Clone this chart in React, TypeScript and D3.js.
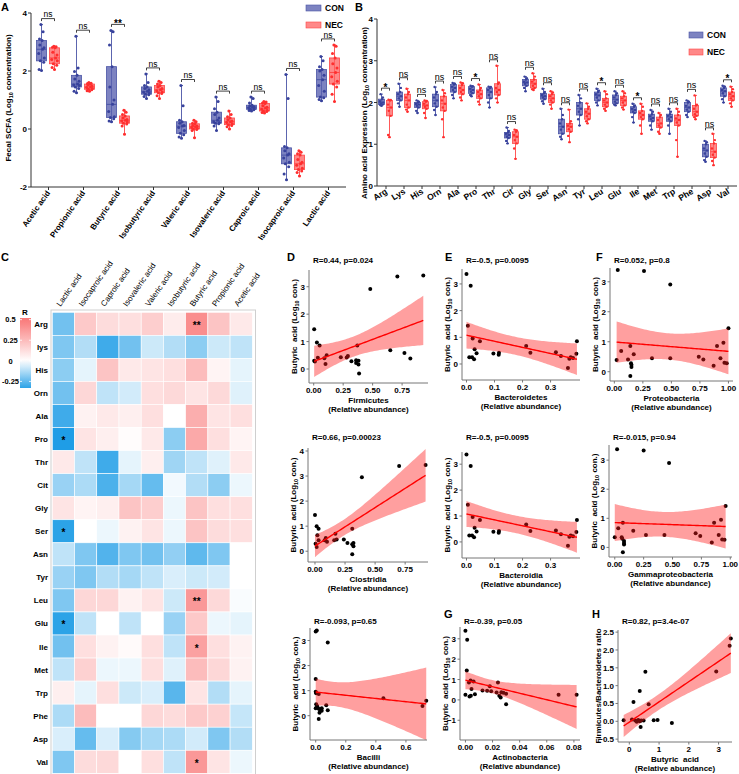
import React from "react";
import * as d3 from "d3";

const FONT = "'Liberation Sans', Arial, Helvetica, sans-serif";

// ---------- Panel A: fecal SCFA ----------
const scfaCats = ["Acetic acid", "Propionic acid", "Butyric acid", "Isobutyric acid", "Valeric acid", "Isovaleric acid", "Caproic acid", "Isocaproic acid", "Lactic acid"];
const scfaCon = [
  [2.02, 2.05, 2.3, 2.35, 2.45, 2.6, 2.75, 2.8, 2.9, 3.05, 3.1, 3.35, 3.6],
  [1.25, 1.3, 1.4, 1.45, 1.5, 1.52, 1.55, 1.65, 1.72, 1.85, 1.98, 2.1, 3.2],
  [0.25, 0.28, 0.35, 0.4, 0.42, 0.6, 0.85, 1.0, 1.45, 2.15, 2.9, 3.35, 3.4],
  [1.05, 1.12, 1.18, 1.2, 1.24, 1.27, 1.3, 1.35, 1.4, 1.45, 1.5, 1.6, 1.9],
  [-0.32, -0.28, -0.2, -0.15, -0.05, 0.05, 0.1, 0.12, 0.2, 0.25, 0.3, 0.8, 1.5],
  [-0.05, 0.1, 0.18, 0.2, 0.22, 0.25, 0.3, 0.38, 0.5, 0.58, 0.7, 0.95, 1.1],
  [0.62, 0.64, 0.66, 0.68, 0.7, 0.72, 0.75, 0.77, 0.8, 0.82, 0.9, 1.05, 1.1],
  [-1.75, -1.55, -1.3, -1.2, -1.15, -1.0, -0.9, -0.85, -0.75, -0.65, -0.6, 1.05, 1.88],
  [0.97, 1.02, 1.08, 1.1, 1.3, 1.5, 1.7, 1.85, 2.0, 2.05, 2.15, 2.35, 2.5],
];
const scfaNec = [
  [2.05, 2.12, 2.2, 2.25, 2.35, 2.4, 2.45, 2.55, 2.65, 2.8, 2.82, 2.84, 2.85],
  [1.3, 1.32, 1.35, 1.37, 1.4, 1.43, 1.45, 1.48, 1.52, 1.55, 1.57, 1.58, 1.6],
  [-0.18, 0.1, 0.17, 0.2, 0.24, 0.28, 0.3, 0.33, 0.38, 0.45, 0.5, 0.58, 0.65],
  [1.05, 1.15, 1.22, 1.25, 1.28, 1.32, 1.35, 1.4, 1.45, 1.5, 1.55, 1.6, 1.65],
  [-0.3, -0.05, -0.02, 0.0, 0.03, 0.05, 0.08, 0.1, 0.12, 0.18, 0.2, 0.25, 0.3],
  [0.0, 0.08, 0.12, 0.15, 0.18, 0.22, 0.25, 0.28, 0.32, 0.38, 0.42, 0.5, 0.62],
  [0.55, 0.57, 0.6, 0.62, 0.65, 0.68, 0.72, 0.75, 0.8, 0.88, 0.9, 0.93, 0.95],
  [-1.62, -1.5, -1.45, -1.4, -1.35, -1.25, -1.2, -1.15, -1.05, -0.9, -0.85, -0.8, -0.75],
  [0.95, 1.2, 1.45, 1.55, 1.65, 1.8, 1.95, 2.1, 2.25, 2.45, 2.6, 2.85, 2.9],
];
const scfaSig = ["ns", "ns", "**", "ns", "ns", "ns", "ns", "ns", "ns"];
const scfaTicks = [-2, 0, 2, 4];

// ---------- Panel B: amino acids ----------
const aaCats = ["Arg", "Lys", "His", "Orn", "Ala", "Pro", "Thr", "Cit", "Gly", "Ser", "Asn", "Tyr", "Leu", "Glu", "Ile", "Met", "Trp", "Phe", "Asp", "Val"];
const aaCon = [
  [1.92, 1.94, 1.95, 1.98, 2.0, 2.03, 2.08, 2.12, 2.2],
  [1.9, 1.98, 2.05, 2.1, 2.15, 2.2, 2.25, 2.35, 2.45],
  [1.75, 1.8, 1.88, 1.92, 1.95, 1.97, 2.0, 2.02, 2.05],
  [1.7, 1.82, 1.9, 1.98, 2.05, 2.12, 2.2, 2.25, 2.37],
  [2.1, 2.18, 2.25, 2.3, 2.35, 2.38, 2.43, 2.45, 2.47],
  [2.15, 2.18, 2.22, 2.26, 2.3, 2.33, 2.38, 2.39, 2.4],
  [1.88, 2.0, 2.1, 2.18, 2.25, 2.3, 2.35, 2.37, 2.38],
  [1.02, 1.08, 1.15, 1.18, 1.22, 1.25, 1.28, 1.32, 1.4],
  [2.27, 2.35, 2.4, 2.45, 2.48, 2.5, 2.55, 2.58, 2.62],
  [1.97, 2.03, 2.08, 2.12, 2.15, 2.18, 2.22, 2.25, 2.33],
  [1.12, 1.18, 1.25, 1.35, 1.42, 1.5, 1.6, 1.7, 1.85],
  [1.45, 1.6, 1.7, 1.78, 1.85, 1.92, 2.0, 2.1, 2.18],
  [1.93, 2.0, 2.05, 2.12, 2.17, 2.2, 2.25, 2.28, 2.33],
  [1.93, 1.95, 1.98, 2.02, 2.07, 2.12, 2.18, 2.22, 2.27],
  [1.52, 1.65, 1.75, 1.78, 1.82, 1.85, 1.9, 1.93, 1.97],
  [1.35, 1.45, 1.55, 1.6, 1.63, 1.67, 1.72, 1.78, 1.82],
  [1.25, 1.45, 1.55, 1.6, 1.65, 1.68, 1.72, 1.78, 1.85],
  [1.65, 1.7, 1.78, 1.83, 1.88, 1.92, 2.0, 2.02, 2.05],
  [0.58, 0.62, 0.7, 0.78, 0.85, 0.9, 1.0, 1.05, 1.08],
  [2.0, 2.08, 2.15, 2.22, 2.27, 2.3, 2.35, 2.38, 2.4],
];
const aaNec = [
  [1.17, 1.22, 1.68, 1.8, 1.88, 1.95, 2.05, 2.06, 2.07],
  [1.78, 1.83, 1.88, 1.95, 2.05, 2.12, 2.2, 2.25, 2.33],
  [1.63, 1.75, 1.85, 1.9, 1.93, 1.97, 2.02, 2.04, 2.05],
  [1.17, 1.6, 1.8, 1.88, 1.97, 2.05, 2.15, 2.22, 2.3],
  [2.05, 2.12, 2.2, 2.25, 2.3, 2.35, 2.42, 2.46, 2.48],
  [1.95, 2.02, 2.1, 2.15, 2.2, 2.25, 2.3, 2.35, 2.43],
  [2.0, 2.1, 2.18, 2.25, 2.3, 2.35, 2.45, 2.48, 2.88],
  [0.65, 0.9, 1.02, 1.1, 1.18, 1.22, 1.3, 1.33, 1.35],
  [2.3, 2.32, 2.35, 2.4, 2.45, 2.5, 2.55, 2.62, 2.7],
  [1.85, 1.95, 2.0, 2.05, 2.1, 2.15, 2.2, 2.24, 2.27],
  [1.05, 1.2, 1.3, 1.36, 1.42, 1.45, 1.5, 1.55, 1.83],
  [1.5, 1.55, 1.6, 1.67, 1.73, 1.78, 1.85, 1.9, 1.98],
  [1.8, 1.85, 1.9, 1.95, 2.0, 2.05, 2.1, 2.2, 2.27],
  [1.83, 1.88, 1.93, 2.0, 2.05, 2.1, 2.15, 2.22, 2.27],
  [1.25, 1.45, 1.6, 1.65, 1.7, 1.75, 1.8, 1.9, 1.97],
  [1.25, 1.3, 1.4, 1.45, 1.5, 1.58, 1.65, 1.7, 1.75],
  [0.7, 1.1, 1.45, 1.52, 1.58, 1.62, 1.7, 1.78, 1.85],
  [1.6, 1.65, 1.68, 1.72, 1.78, 1.85, 1.93, 1.95, 2.17],
  [0.5, 0.6, 0.68, 0.75, 0.82, 0.9, 1.02, 1.1, 1.25],
  [1.9, 1.98, 2.05, 2.1, 2.15, 2.2, 2.25, 2.32, 2.38],
];
const aaSig = ["*", "ns", "ns", "ns", "ns", "*", "ns", "ns", "ns", "ns", "ns", "ns", "*", "ns", "*", "ns", "ns", "ns", "ns", "*"];
const aaTicks = [0, 1, 2, 3, 4];

// ---------- Panel C: correlation heatmap ----------
const hmCols = ["Lactic acid", "Isocaproic acid", "Caproic acid", "Isovaleric acid", "Valeric acid", "Isobutyric acid", "Butyric acid", "Propionic acid", "Acetic acid"];
const hmRows = ["Arg", "lys", "His", "Orn", "Ala", "Pro", "Thr", "Cit", "Gly", "Ser", "Asn", "Tyr", "Leu", "Glu", "Ile", "Met", "Trp", "Phe", "Asp", "Val"];
const hmR = [
  [-0.22, 0.2, 0.13, 0.12, 0.18, 0.07, 0.42, 0.22, 0.08],
  [-0.2, -0.12, -0.3, -0.22, -0.08, -0.12, -0.18, -0.08, -0.1],
  [-0.18, -0.04, 0.22, 0.08, 0.1, 0.12, 0.25, 0.04, -0.04],
  [-0.22, 0.15, -0.1, -0.07, 0.12, 0.14, 0.1, 0.14, -0.05],
  [-0.3, 0.05, 0.08, 0.06, 0.12, 0.0, 0.3, 0.1, 0.12],
  [-0.35, 0.1, 0.06, 0.01, 0.08, -0.18, 0.32, 0.12, 0.04],
  [0.08, -0.1, -0.3, -0.04, 0.06, -0.15, -0.1, -0.05, 0.08],
  [-0.16, -0.13, -0.28, -0.14, -0.24, -0.02, -0.12, -0.18, -0.03],
  [0.1, 0.04, 0.06, 0.22, 0.18, -0.03, 0.22, 0.12, 0.12],
  [-0.33, 0.0, -0.03, 0.05, 0.1, -0.03, 0.22, 0.13, 0.12],
  [-0.1, -0.2, -0.27, -0.2, -0.22, -0.17, -0.25, -0.2, 0.0],
  [-0.16, -0.2, -0.12, -0.14, -0.1, -0.06, -0.08, -0.07, 0.0],
  [-0.2, 0.15, 0.15, 0.05, 0.1, -0.08, 0.38, 0.14, -0.01],
  [-0.33, -0.1, 0.0, -0.1, 0.0, -0.16, 0.2, -0.03, -0.04],
  [-0.22, 0.12, 0.05, 0.02, 0.12, -0.1, 0.35, 0.12, 0.05],
  [-0.1, 0.17, -0.03, -0.03, 0.12, -0.05, 0.25, 0.15, 0.05],
  [0.06, -0.04, 0.12, -0.08, -0.06, -0.26, 0.1, -0.12, -0.04],
  [-0.13, 0.25, 0.0, 0.0, 0.15, 0.13, 0.2, 0.17, -0.09],
  [-0.06, -0.24, -0.06, -0.19, -0.14, -0.13, -0.07, -0.2, -0.12],
  [-0.2, 0.13, 0.14, 0.0, 0.12, -0.1, 0.38, 0.1, -0.03],
];
const hmStarRows = ["Arg", "Pro", "Ser", "Leu", "Glu", "Ile", "Val"];
const hmStarCols = ["Butyric acid", "Lactic acid", "Lactic acid", "Butyric acid", "Lactic acid", "Butyric acid", "Butyric acid"];
const hmStarLabels = ["**", "*", "*", "**", "*", "*", "*"];
const hmLegendTicks = [0.5, 0.25, 0, -0.25];

// ---------- Panels D–H: correlation scatter data ----------
const firmicutesX = [0.004, 0.027, 0.05, 0.004, 0.035, 0.09, 0.1, 0.11, 0.23, 0.28, 0.29, 0.32, 0.37, 0.36, 0.38, 0.38, 0.385, 0.36, 0.48, 0.65, 0.71, 0.77, 0.82, 0.93, 0.01];
const firmicutesY = [1.45, 0.97, 0.86, 0.3, 0.41, 0.39, 0.18, 0.5, 0.43, 0.42, 0.47, 0.28, 0.86, 0.22, 0.16, 0.3, -0.16, 0.32, 2.92, 0.68, 3.37, 0.58, 0.38, 3.41, 0.27];
const bacteroidX = [0.0, 0.015, 0.005, 0.022, 0.048, 0.029, 0.036, 0.01, 0.02, 0.027, 0.096, 0.116, 0.115, 0.213, 0.228, 0.319, 0.337, 0.362, 0.367, 0.372, 0.38, 0.394, 0.392];
const bacteroidY = [3.37, 2.93, 1.43, 0.96, 0.85, 0.55, 0.4, 0.25, 0.25, 0.18, 0.39, 0.42, 0.35, 0.67, 0.42, 0.44, 0.3, -0.15, 0.2, 0.25, 0.22, 0.85, 0.38];
const proteoX = [0.02, 0.06, 0.12, 0.14, 0.146, 0.15, 0.15, 0.14, 0.17, 0.33, 0.49, 0.74, 0.78, 0.87, 0.9, 0.93, 0.956, 0.965, 0.985, 1.0, 0.03, 0.26, 0.49];
const proteoY = [0.39, 0.69, 0.41, 0.86, 0.28, 0.23, 0.16, -0.14, 0.58, 0.45, 0.45, 0.5, 0.41, 0.2, 0.86, 0.45, 0.97, 0.3, 0.28, 1.45, 3.39, 3.36, 2.91];
const clostridiaX = [0.0, 0.014, 0.03, 0.02, 0.005, 0.014, 0.03, 0.08, 0.09, 0.1, 0.16, 0.17, 0.18, 0.24, 0.27, 0.31, 0.31, 0.32, 0.32, 0.31, 0.39, 0.7, 0.92];
const clostridiaY = [1.45, 1.0, 0.9, 0.64, 0.3, 0.17, 0.44, 0.44, 0.53, 0.38, 0.44, 0.7, 0.47, 0.47, 0.33, 0.9, 0.28, 0.2, 0.33, -0.12, 2.95, 3.4, 3.44];
const gammaX = [0.0, 0.03, 0.06, 0.065, 0.07, 0.08, 0.08, 0.07, 0.08, 0.16, 0.27, 0.43, 0.7, 0.74, 0.84, 0.86, 0.9, 0.92, 0.93, 0.95, 0.96, 0.02, 0.25, 0.47];
const gammaY = [0.35, 0.66, 0.35, 0.3, 0.85, 0.15, 0.22, -0.17, 0.1, 0.57, 0.43, 0.43, 0.49, 0.39, 0.17, 0.85, 0.43, 0.95, 0.27, 0.26, 1.42, 3.37, 3.33, 2.9];
const bacilliX = [0.0, 0.007, 0.08, 0.0, 0.0, 0.003, 0.02, 0.003, 0.01, 0.02, 0.0, 0.03, 0.04, 0.025, 0.02, 0.04, 0.07, 0.08, 0.45, 0.71, 0.735];
const bacilliY = [3.36, 3.4, 2.92, 1.46, 0.96, 0.9, 0.87, 0.46, 0.38, 0.28, 0.3, 0.2, 0.3, 0.12, -0.13, 0.2, 0.42, 0.22, 0.7, 0.39, 0.6];
const actinoX = [0.0, 0.0013, 0.001, 0.0026, 0.0038, 0.0045, 0.0, 0.003, 0.004, 0.007, 0.006, 0.0126, 0.016, 0.018, 0.019, 0.023, 0.024, 0.025, 0.026, 0.0265, 0.028, 0.03, 0.03, 0.0687, 0.082];
const actinoY = [3.4, 2.95, 1.44, 0.85, 0.95, 0.54, 0.25, 0.17, 0.2, 0.28, 0.9, 0.46, 0.45, 0.67, 0.43, 0.36, 0.85, 0.2, 0.12, 0.38, 0.35, 0.3, -0.21, 0.25, 0.25];
const fbButyricX = [-0.19, 0.09, 0.14, 0.2, 0.25, 0.3, 0.35, 0.4, 0.38, 0.35, 0.54, 0.65, 0.48, 0.82, 0.95, 1.43, 2.92, 3.37, 3.41];
const fbRatioY = [0.03, 0.05, 0.54, 0.02, -0.01, 0.04, 0.0, 0.02, -0.16, 0.85, 1.39, 0.48, 0.02, 0.03, 0.04, -0.05, 1.4, 2.12, 2.32];

// ---------- styling ----------
const CON_FILL = "rgba(88,96,176,0.78)";
const CON_STROKE = "#4a54a6";
const CON_PT = "#38429c";
const NEC_FILL = "rgba(255,96,96,0.75)";
const NEC_STROKE = "#ff4646";
const NEC_PT = "#ff2e2e";
const JIT = [0, -2.4, 2.2, -1.2, 2.8, -2.8, 1.1, 2.5, -1.7, 0.6, -2, 1.6, -0.6];

function stats(v: number[]) {
  const s = [...v].sort(d3.ascending);
  return { min: s[0], q1: d3.quantile(s, 0.25)!, med: d3.quantile(s, 0.5)!, q3: d3.quantile(s, 0.75)!, max: s[s.length - 1] };
}

function Box({ vals, cx, w, y, fill, stroke, pt, r, jit }: any) {
  const s = stats(vals);
  return (
    <g>
      <line x1={cx} x2={cx} y1={y(s.min)} y2={y(s.max)} stroke={stroke} strokeWidth={0.9} />
      <line x1={cx - 1.5} x2={cx + 1.5} y1={y(s.min)} y2={y(s.min)} stroke={stroke} strokeWidth={0.9} />
      <line x1={cx - 1.5} x2={cx + 1.5} y1={y(s.max)} y2={y(s.max)} stroke={stroke} strokeWidth={0.9} />
      <rect x={cx - w / 2} y={y(s.q3)} width={w} height={y(s.q1) - y(s.q3)} fill={fill} stroke={stroke} strokeWidth={0.8} />
      <line x1={cx - w / 2} x2={cx + w / 2} y1={y(s.med)} y2={y(s.med)} stroke={stroke} strokeWidth={1} />
      {vals.map((v: number, i: number) => (
        <circle key={i} cx={cx + JIT[i % JIT.length] * jit} cy={y(v)} r={r} fill={pt} />
      ))}
    </g>
  );
}

function BoxPanel({ cats, con, nec, sig, ticks, x, y, off, boxW, r, jit, labelRot, labelSize, labelDy, yLabel, legend, nsSize }: any) {
  const [x0, x1] = x.range();
  const [yb, yt] = y.range();
  return (
    <g fontFamily={FONT}>
      <line x1={x0} x2={x0} y1={yb} y2={yt} stroke="#333" strokeWidth={1} />
      <line x1={x0} x2={x1} y1={yb} y2={yb} stroke="#333" strokeWidth={1} />
      {ticks.map((t: number) => (
        <g key={t}>
          <line x1={x0 - 3} x2={x0} y1={y(t)} y2={y(t)} stroke="#333" />
          <text x={x0 - 4} y={y(t) + 3} textAnchor="end" fontSize={8} fontWeight="bold">{t}</text>
        </g>
      ))}
      {cats.map((c: string, i: number) => {
        const cx = x(c)! + x.bandwidth() / 2;
        const sc = stats(con[i]);
        const sn = stats(nec[i]);
        const by = Math.min(y(sc.max), y(sn.max)) - 6;
        const a = cx + off[0];
        const b = cx + off[1];
        return (
          <g key={c}>
            <line x1={cx} x2={cx} y1={yb} y2={yb + 3} stroke="#333" />
            <Box vals={con[i]} cx={a} w={boxW} y={y} fill={CON_FILL} stroke={CON_STROKE} pt={CON_PT} r={r} jit={jit} />
            <Box vals={nec[i]} cx={b} w={boxW} y={y} fill={NEC_FILL} stroke={NEC_STROKE} pt={NEC_PT} r={r} jit={jit} />
            <path d={`M${a},${by + 2.5}V${by}H${b}V${by + 2.5}`} fill="none" stroke="#111" strokeWidth={0.8} />
            <text x={(a + b) / 2} y={sig[i] === "ns" ? by - 1.2 : by + 2.5} textAnchor="middle" fontSize={sig[i] === "ns" ? nsSize : 10} fontWeight={sig[i] === "ns" ? "normal" : "bold"}>{sig[i]}</text>
            <text transform={`translate(${cx + 2},${yb + labelDy}) rotate(${labelRot})`} textAnchor="end" fontSize={labelSize} fontWeight="bold">{c}</text>
          </g>
        );
      })}
      <text transform={`translate(${yLabel.x},${yLabel.y}) rotate(-90)`} textAnchor="middle" fontSize={8} fontWeight="bold">
        {yLabel.pre}<tspan fontSize={5.5} dy={2}>10</tspan><tspan dy={-2}> concentration)</tspan>
      </text>
      {[["CON", CON_FILL, CON_STROKE], ["NEC", NEC_FILL, NEC_STROKE]].map(([lab, f, s], i) => (
        <g key={lab}>
          <rect x={legend.x} y={legend.y + i * legend.dy} width={legend.w} height={legend.h} fill={f} stroke={s} strokeWidth={0.6} />
          <text x={legend.x + legend.w + 4} y={legend.y + i * legend.dy + legend.h} fontSize={8.5} fontWeight="bold">{lab}</text>
        </g>
      ))}
    </g>
  );
}

function Heatmap() {
  const x = d3.scaleBand<string>().domain(hmCols).range([52.3, 252.3]);
  const y = d3.scaleBand<string>().domain(hmRows).range([312.3, 773.3]);
  const color = d3.scaleLinear<string>().domain([-0.35, 0, 0.5]).range(["#1f9de6", "#ffffff", "#f97878"]).clamp(true);
  const barY = d3.scaleLinear().domain([-0.33, 0.52]).range([388, 318]);
  const stops = d3.range(0, 11).map((i) => -0.33 + (0.85 * i) / 10);
  return (
    <g fontFamily={FONT}>
      <defs>
        <linearGradient id="rbar" x1="0" y1="1" x2="0" y2="0">
          {stops.map((v, i) => (
            <stop key={i} offset={`${(i / 10) * 100}%`} stopColor={color(v)} />
          ))}
        </linearGradient>
      </defs>
      <rect x={51} y={310} width={204.5} height={470} fill="none" stroke="#cfcfcf" strokeWidth={1} />
      {hmRows.map((r, i) =>
        hmCols.map((c, j) => (
          <rect key={r + c} x={x(c)!} y={y(r)!} width={x.bandwidth()} height={y.bandwidth()} fill={color(hmR[i][j])} stroke="#fff" strokeWidth={0.6} />
        ))
      )}
      {hmStarRows.map((r, k) => (
        <text key={k} x={x(hmStarCols[k])! + x.bandwidth() / 2} y={y(r)! + y.bandwidth() / 2 + 5} textAnchor="middle" fontSize={10} fontWeight="bold">{hmStarLabels[k]}</text>
      ))}
      {hmRows.map((r) => (
        <text key={r} x={48} y={y(r)! + y.bandwidth() / 2 + 3} textAnchor="end" fontSize={8} fontWeight="bold">{r}</text>
      ))}
      {hmCols.map((c) => (
        <text key={c} transform={`translate(${x(c)! + x.bandwidth() / 2 - 3},${307}) rotate(-55)`} fontSize={8}>{c}</text>
      ))}
      <text x={25} y={315} textAnchor="middle" fontSize={8} fontWeight="bold">R</text>
      <rect x={20} y={318} width={11} height={70} fill="url(#rbar)" />
      {hmLegendTicks.map((t) => (
        <g key={t}>
          <line x1={20} x2={22} y1={barY(t)} y2={barY(t)} stroke="#fff" strokeWidth={0.8} />
          <line x1={29} x2={31} y1={barY(t)} y2={barY(t)} stroke="#fff" strokeWidth={0.8} />
          <text x={10.5} y={barY(t) + 2.8} textAnchor="middle" fontSize={7.5} fontWeight="bold">{t}</text>
        </g>
      ))}
    </g>
  );
}

function fitLm(xs: number[], ys: number[]) {
  const n = xs.length;
  const mx = d3.mean(xs)!;
  const my = d3.mean(ys)!;
  let sxx = 0, sxy = 0;
  xs.forEach((x, i) => { sxx += (x - mx) ** 2; sxy += (x - mx) * (ys[i] - my); });
  const b = sxy / sxx;
  const a = my - b * mx;
  let sse = 0;
  xs.forEach((x, i) => { sse += (ys[i] - a - b * x) ** 2; });
  const s = Math.sqrt(sse / (n - 2));
  const t = 2.07;
  const [lo, hi] = d3.extent(xs) as [number, number];
  return d3.range(0, 61).map((i) => {
    const x = lo + ((hi - lo) * i) / 60;
    const fit = a + b * x;
    const se = s * Math.sqrt(1 / n + (x - mx) ** 2 / sxx);
    return { x, fit, lo: fit - t * se, hi: fit + t * se };
  });
}

function Scatter({ cfg, id }: any) {
  const { box, xd, yd, xt, yt, xf, yf, xs, ys, title, letter, xlab, ylab } = cfg;
  const x = d3.scaleLinear().domain(xd).range([box.x0, box.x1]);
  const y = d3.scaleLinear().domain(yd).range([box.y1, box.y0]);
  const fit = fitLm(xs, ys);
  const area = d3.area<any>().x((d) => x(d.x)).y0((d) => y(d.lo)).y1((d) => y(d.hi));
  const line = d3.line<any>().x((d) => x(d.x)).y((d) => y(d.fit));
  const fx = d3.format(xf);
  const fy = d3.format(yf);
  const cy = (box.y0 + box.y1) / 2;
  return (
    <g fontFamily={FONT}>
      <defs>
        <clipPath id={id}>
          <rect x={box.x0} y={box.y0} width={box.x1 - box.x0} height={box.y1 - box.y0} />
        </clipPath>
      </defs>
      {letter && <text x={letter.x} y={letter.y} fontSize={11} fontWeight="bold">{letter.t}</text>}
      <text x={box.x0 + 4} y={title.y} fontSize={8} fontWeight="bold">{title.t}</text>
      {xs.map((v: number, i: number) => (
        <circle key={i} cx={x(v)} cy={y(ys[i])} r={2} fill="#000" />
      ))}
      <g clipPath={`url(#${id})`}>
        <path d={area(fit)!} fill="#ff1a1a" fillOpacity={0.42} />
        <path d={line(fit)!} fill="none" stroke="#ff0000" strokeWidth={1.4} />
      </g>
      <line x1={box.x0} x2={box.x0} y1={box.y0} y2={box.y1} stroke="#777" strokeWidth={1} />
      <line x1={box.x0} x2={box.x1} y1={box.y1} y2={box.y1} stroke="#777" strokeWidth={1} />
      {yt.map((t: number) => (
        <g key={t}>
          <line x1={box.x0 - 2.5} x2={box.x0} y1={y(t)} y2={y(t)} stroke="#777" />
          <text x={box.x0 - 4} y={y(t) + 3} textAnchor="end" fontSize={8} fontWeight="bold">{fy(t)}</text>
        </g>
      ))}
      {xt.map((t: number) => (
        <g key={t}>
          <line x1={x(t)} x2={x(t)} y1={box.y1} y2={box.y1 + 2.5} stroke="#777" />
          <text x={x(t)} y={box.y1 + 10} textAnchor="middle" fontSize={8} fontWeight="bold">{fx(t)}</text>
        </g>
      ))}
      <text x={(box.x0 + box.x1) / 2} y={box.y1 + 20} textAnchor="middle" fontSize={8} fontWeight="bold" style={{ whiteSpace: "pre" }}>{xlab}</text>
      <text x={(box.x0 + box.x1) / 2} y={box.y1 + 29} textAnchor="middle" fontSize={8} fontWeight="bold">(Relative abundance)</text>
      {ylab ? (
        <text transform={`translate(${box.x0 - 17},${cy}) rotate(-90)`} textAnchor="middle" fontSize={8} fontWeight="bold">{ylab}</text>
      ) : (
        <text transform={`translate(${box.x0 - 12},${cy}) rotate(-90)`} textAnchor="middle" fontSize={8} fontWeight="bold" style={{ whiteSpace: "pre" }}>
          Butyric  acid (Log<tspan fontSize={5.5} dy={2}>10</tspan><tspan dy={-2}> con.)</tspan>
        </text>
      )}
    </g>
  );
}

const scatterCfgs = [
  { box: { x0: 309, x1: 428, y0: 270, y1: 383 }, xd: [-0.04, 0.97], yd: [-0.51, 3.61], xt: [0, 0.25, 0.5, 0.75], yt: [0, 1, 2, 3], xf: ".2f", yf: "d", xs: firmicutesX, ys: firmicutesY, title: { t: "R=0.44, p=0.024", y: 263 }, letter: { t: "D", x: 287, y: 261 }, xlab: "Firmicutes" },
  { box: { x0: 462, x1: 580, y0: 269, y1: 380 }, xd: [-0.016, 0.405], yd: [-0.6, 3.56], xt: [0, 0.1, 0.2, 0.3], yt: [0, 1, 2, 3], xf: ".1f", yf: "d", xs: bacteroidX, ys: bacteroidY, title: { t: "R=-0.5, p=0.0095", y: 263 }, letter: { t: "E", x: 445, y: 261 }, xlab: "Bacteroidetes" },
  { box: { x0: 610, x1: 733, y0: 268, y1: 381 }, xd: [-0.038, 1.04], yd: [-0.31, 3.46], xt: [0, 0.25, 0.5, 0.75, 1], yt: [0, 1, 2, 3], xf: ".2f", yf: "d", xs: proteoX, ys: proteoY, title: { t: "R=0.052, p=0.8", y: 263 }, letter: { t: "F", x: 596, y: 261 }, xlab: "Proteobacteria" },
  { box: { x0: 308, x1: 428, y0: 448, y1: 562 }, xd: [-0.058, 0.94], yd: [-0.43, 4.12], xt: [0, 0.25, 0.5, 0.75], yt: [0, 1, 2, 3, 4], xf: ".2f", yf: "d", xs: clostridiaX, ys: clostridiaY, title: { t: "R=0.66, p=0.00023", y: 440 }, letter: null, xlab: "Clostridia" },
  { box: { x0: 462, x1: 580, y0: 452, y1: 558 }, xd: [-0.016, 0.405], yd: [-0.62, 3.47], xt: [0, 0.1, 0.2, 0.3], yt: [0, 1, 2, 3], xf: ".1f", yf: "d", xs: bacteroidX, ys: bacteroidY, title: { t: "R=-0.5, p=0.0095", y: 440 }, letter: null, xlab: "Bacteroidia" },
  { box: { x0: 609, x1: 732, y0: 445, y1: 557 }, xd: [-0.05, 1.015], yd: [-0.33, 3.52], xt: [0, 0.25, 0.5, 0.75, 1], yt: [0, 1, 2, 3], xf: ".2f", yf: "d", xs: gammaX, ys: gammaY, title: { t: "R=-0.015, p=0.94", y: 440 }, letter: null, xlab: "Gammaproteobacteria" },
  { box: { x0: 310, x1: 427, y0: 628, y1: 740 }, xd: [-0.038, 0.74], yd: [-0.97, 3.5], xt: [0, 0.2, 0.4, 0.6], yt: [0, 1, 2, 3], xf: ".1f", yf: "d", xs: bacilliX, ys: bacilliY, title: { t: "R=-0.093, p=0.65", y: 624 }, letter: null, xlab: "Bacilli" },
  { box: { x0: 460, x1: 580, y0: 627, y1: 740 }, xd: [-0.004, 0.0845], yd: [-1.97, 3.58], xt: [0, 0.02, 0.04, 0.06, 0.08], yt: [-1, 0, 1, 2, 3], xf: ".2f", yf: "d", xs: actinoX, ys: actinoY, title: { t: "R=-0.39, p=0.05", y: 624 }, letter: { t: "G", x: 444, y: 618 }, xlab: "Actinobacteria" },
  { box: { x0: 618, x1: 732, y0: 630, y1: 742 }, xd: [-0.38, 3.45], yd: [-0.58, 2.56], xt: [0, 1, 2, 3], yt: [-0.5, 0, 0.5, 1, 1.5, 2, 2.5], xf: "d", yf: ".1f", xs: fbButyricX, ys: fbRatioY, title: { t: "R=0.82, p=3.4e-07", y: 624 }, letter: { t: "H", x: 592, y: 618 }, xlab: "Butyric  acid", ylab: "Firmicutes/Bacteroidetes ratio" },
];

export default function App() {
  const xA = d3.scaleBand<string>().domain(scfaCats).range([31, 346]);
  const yA = d3.scaleLinear().domain([-2, 4]).range([187, 13]);
  const xB = d3.scaleBand<string>().domain(aaCats).range([377, 737]);
  const yB = d3.scaleLinear().domain([0, 4]).range([186, 19]);
  return (
    <svg width={739} height={774} style={{ position: "absolute", left: 0, top: 0, background: "#fff" }} fontFamily={FONT}>
      <rect width={739} height={774} fill="#fff" />
      <text x={1} y={11} fontSize={11} fontWeight="bold">A</text>
      <text x={355} y={11} fontSize={11} fontWeight="bold">B</text>
      <text x={1} y={261} fontSize={11} fontWeight="bold">C</text>
      <BoxPanel cats={scfaCats} con={scfaCon} nec={scfaNec} sig={scfaSig} ticks={scfaTicks} x={xA} y={yA} off={[-7, 6]} boxW={10} r={1.5} jit={1}
        labelRot={-55} labelSize={8} labelDy={6} nsSize={8.5}
        yLabel={{ x: 11, y: 98, pre: "Fecal SCFA (Log" }}
        legend={{ x: 306, y: 5, w: 15, h: 6, dy: 17 }} />
      <BoxPanel cats={aaCats} con={aaCon} nec={aaNec} sig={aaSig} ticks={aaTicks} x={xB} y={yB} off={[-4.5, 3.5]} boxW={6} r={1.2} jit={0.55}
        labelRot={-32} labelSize={8.5} labelDy={7} nsSize={9}
        yLabel={{ x: 367, y: 113, pre: "Amino acid Expression (Log" }}
        legend={{ x: 689, y: 32, w: 14, h: 6, dy: 17 }} />
      <Heatmap />
      {scatterCfgs.map((c, i) => (
        <Scatter key={i} cfg={c} id={`clip${i}`} />
      ))}
    </svg>
  );
}
